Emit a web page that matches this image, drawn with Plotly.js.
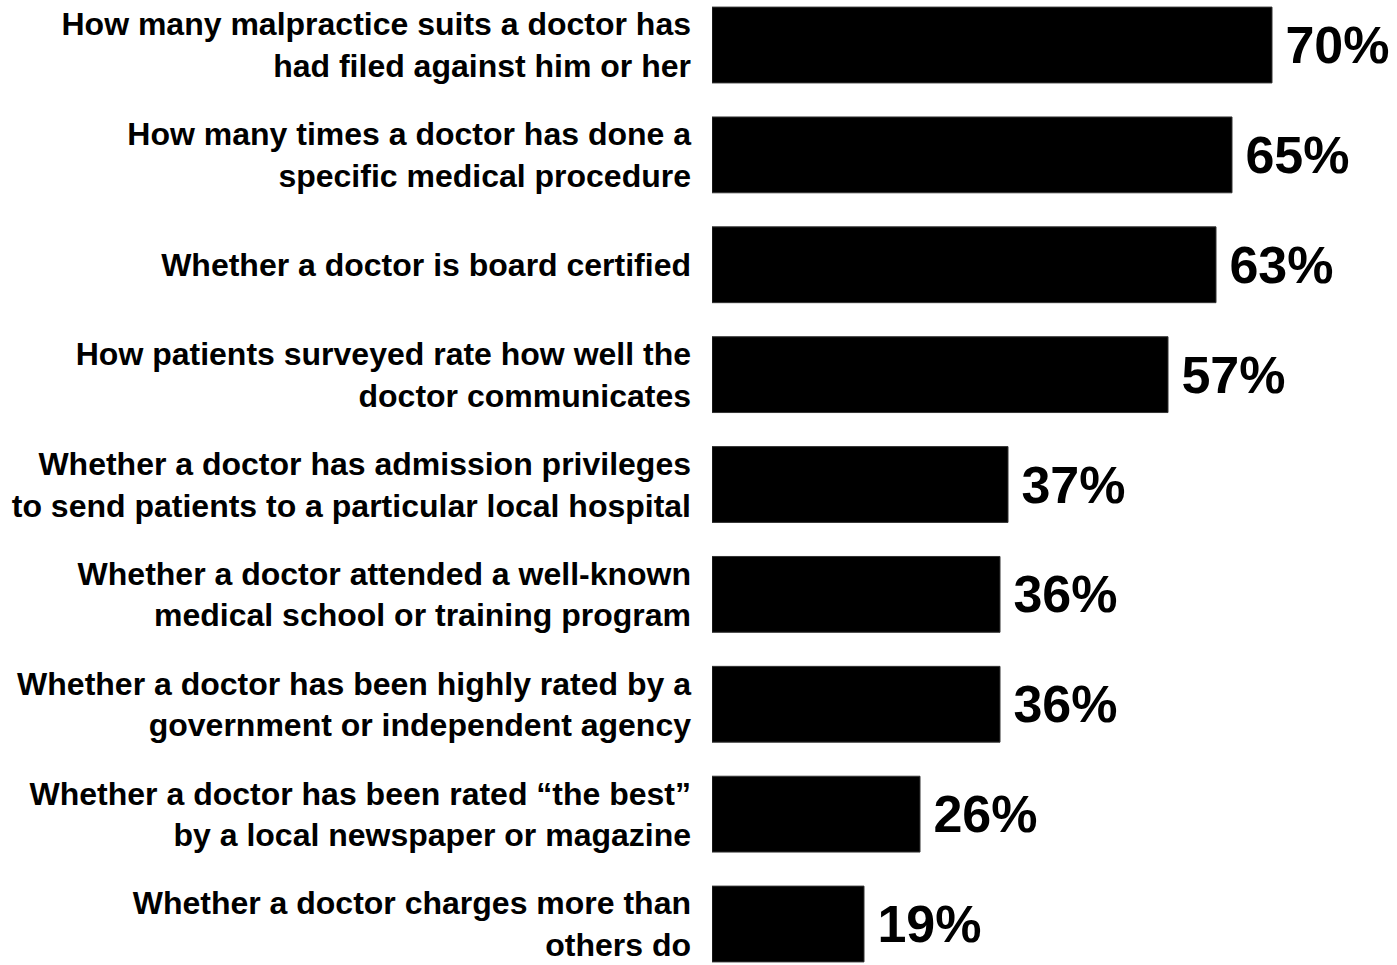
<!DOCTYPE html>
<html><head><meta charset="utf-8">
<script src="https://cdn.plot.ly/plotly-3.0.1.min.js"></script>
<style>html,body{margin:0;padding:0;background:#fff}#chart{width:1397px;height:965px}</style>
</head><body><div id="chart"></div>
<script>
const categories = [
  "How many malpractice suits a doctor has<br>had filed against him or her",
  "How many times a doctor has done a<br>specific medical procedure",
  "Whether a doctor is board certified",
  "How patients surveyed rate how well the<br>doctor communicates",
  "Whether a doctor has admission privileges<br>to send patients to a particular local hospital",
  "Whether a doctor attended a well-known<br>medical school or training program",
  "Whether a doctor has been highly rated by a<br>government or independent agency",
  "Whether a doctor has been rated \u201cthe best\u201d<br>by a local newspaper or magazine",
  "Whether a doctor charges more than<br>others do"
];
const values = [70, 65, 63, 57, 37, 36, 36, 26, 19];
const idx = categories.map((c, i) => i);
const FONT = "'Liberation Sans', Arial, sans-serif";

const trace = {
  type: 'bar', orientation: 'h',
  x: values, y: idx,
  marker: {color: '#000000', line: {color: '#333333', width: 1}},
  width: 0.69,
  text: values.map(v => '\u2009' + v + '%'),
  textposition: 'outside',
  cliponaxis: false,
  textfont: {family: FONT, size: 52, color: '#000', weight: 'bold'},
  hoverinfo: 'none'
};
const layout = {
  width: 1397, height: 965,
  margin: {l: 712, r: 0, t: 0, b: 0},
  paper_bgcolor: '#fff', plot_bgcolor: '#fff',
  showlegend: false,
  font: {family: FONT, color: '#000'},
  xaxis: {range: [0, 85.625], visible: false, showgrid: false, zeroline: false},
  yaxis: {
    range: [8.373, -0.4096], tickmode: 'array', tickvals: idx, ticktext: categories,
    showgrid: false, zeroline: false, showline: false, ticks: '',
    ticklabelstandoff: 20,
    tickfont: {family: FONT, size: 32, color: '#000', weight: 'bold'}
  }
};
Plotly.newPlot('chart', [trace], layout, {displayModeBar: false, staticPlot: true});
</script></body></html>
